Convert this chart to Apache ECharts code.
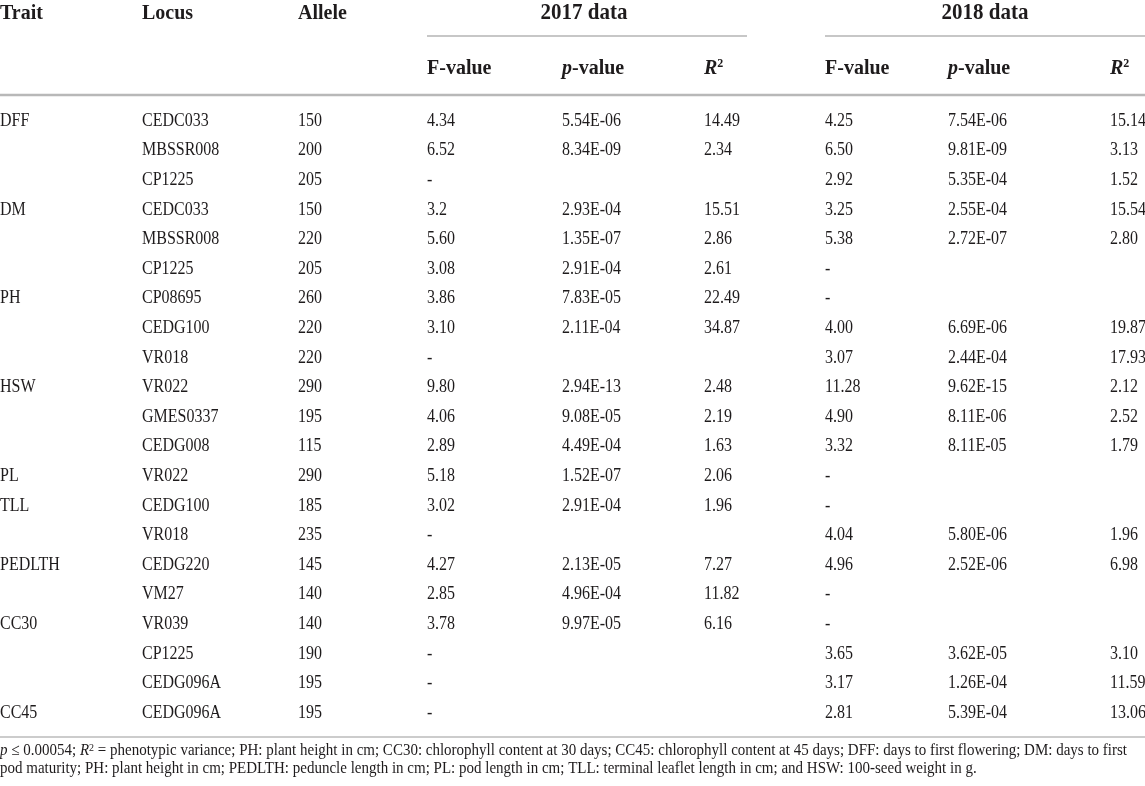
<!DOCTYPE html>
<html>
<head>
<meta charset="utf-8">
<script src="https://cdn.jsdelivr.net/npm/echarts@6/dist/echarts.min.js"></script>
<style>
html, body { margin: 0; padding: 0; background: #fff; }
#main { width: 1145px; height: 786px; }
</style>
</head>
<body>
<div id="main"></div>
<script>
// table values, one array per column
const traits  = ['DFF', '', '', 'DM', '', '', 'PH', '', '', 'HSW', '', '', 'PL', 'TLL', '', 'PEDLTH', '', 'CC30', '', '', 'CC45'];
const loci    = ['CEDC033', 'MBSSR008', 'CP1225', 'CEDC033', 'MBSSR008', 'CP1225', 'CP08695', 'CEDG100', 'VR018', 'VR022', 'GMES0337', 'CEDG008', 'VR022', 'CEDG100', 'VR018', 'CEDG220', 'VM27', 'VR039', 'CP1225', 'CEDG096A', 'CEDG096A'];
const alleles = ['150', '200', '205', '150', '220', '205', '260', '220', '220', '290', '195', '115', '290', '185', '235', '145', '140', '140', '190', '195', '195'];

const f2017 = ['4.34', '6.52', '-', '3.2', '5.60', '3.08', '3.86', '3.10', '-', '9.80', '4.06', '2.89', '5.18', '3.02', '-', '4.27', '2.85', '3.78', '-', '-', '-'];
const p2017 = ['5.54E-06', '8.34E-09', '', '2.93E-04', '1.35E-07', '2.91E-04', '7.83E-05', '2.11E-04', '', '2.94E-13', '9.08E-05', '4.49E-04', '1.52E-07', '2.91E-04', '', '2.13E-05', '4.96E-04', '9.97E-05', '', '', ''];
const r2017 = ['14.49', '2.34', '', '15.51', '2.86', '2.61', '22.49', '34.87', '', '2.48', '2.19', '1.63', '2.06', '1.96', '', '7.27', '11.82', '6.16', '', '', ''];

const f2018 = ['4.25', '6.50', '2.92', '3.25', '5.38', '-', '-', '4.00', '3.07', '11.28', '4.90', '3.32', '-', '-', '4.04', '4.96', '-', '-', '3.65', '3.17', '2.81'];
const p2018 = ['7.54E-06', '9.81E-09', '5.35E-04', '2.55E-04', '2.72E-07', '', '', '6.69E-06', '2.44E-04', '9.62E-15', '8.11E-06', '8.11E-05', '', '', '5.80E-06', '2.52E-06', '', '', '3.62E-05', '1.26E-04', '5.39E-04'];
const r2018 = ['15.14', '3.13', '1.52', '15.54', '2.80', '', '', '19.87', '17.93', '2.12', '2.52', '1.79', '', '', '1.96', '6.98', '', '', '3.10', '11.59', '13.06'];

const columns = [traits, loci, alleles, f2017, p2017, r2017, f2018, p2018, r2018];

const footLine1 = '{i|p} ≤ 0.00054; {i|R}{s|2} = phenotypic variance; PH: plant height in cm; CC30: chlorophyll content at 30 days; CC45: chlorophyll content at 45 days; DFF: days to first flowering; DM: days to first';
const footLine2 = 'pod maturity; PH: plant height in cm; PEDLTH: peduncle length in cm; PL: pod length in cm; TLL: terminal leaflet length in cm; and HSW: 100-seed weight in g.';

// layout
const W = 1145;
const colX = [0, 142, 298, 427, 562, 704, 825, 948, 1110];
const rowH = 29.6;
const firstRowY = 121;
const serif = '"Liberation Serif", "DejaVu Serif", serif';
const ink = '#1e1b1c';

let cells = [];
columns.forEach((col, c) => {
    col.forEach((v, r) => {
        if (v !== '') cells.push([c, r]);
    });
});

function txt(x, y, text, size, weight, align) {
    return {
        type: 'text',
        x: x,
        y: y,
        scaleY: 1.1,
        style: {
            text: text,
            fill: ink,
            fontSize: size,
            fontWeight: weight,
            fontFamily: serif,
            align: align, textAlign: align,
            verticalAlign: 'middle', textVerticalAlign: 'middle'
        }
    };
}

const headRich = {
    i: { fontStyle: 'italic', fontWeight: 'bold', fontSize: 20, fontFamily: serif, fill: ink },
    s: { fontSize: 12, fontWeight: 'bold', fontFamily: serif, fill: ink, verticalAlign: 'top' }
};
const footRich = {
    i: { fontStyle: 'italic', fontSize: 15, fontFamily: serif, fill: ink },
    s: { fontSize: 10, fontFamily: serif, fill: ink, verticalAlign: 'top' }
};

function richTxt(x, y, text, size, weight, rich) {
    let t = txt(x, y, text, size, weight, 'left');
    t.style.rich = rich;
    return t;
}

const headY = 13, subY = 68;
const graphics = [
    txt(colX[0], headY, 'Trait', 20, 'bold', 'left'),
    txt(colX[1], headY, 'Locus', 20, 'bold', 'left'),
    txt(colX[2], headY, 'Allele', 20, 'bold', 'left'),
    txt(584, headY, '2017 data', 21, 'bold', 'center'),
    txt(985, headY, '2018 data', 21, 'bold', 'center'),
    { type: 'line', shape: { x1: 427, y1: 36, x2: 747, y2: 36 }, style: { stroke: '#8f8f8f', lineWidth: 1 } },
    { type: 'line', shape: { x1: 825, y1: 36, x2: W, y2: 36 }, style: { stroke: '#8f8f8f', lineWidth: 1 } },
    txt(colX[3], subY, 'F-value', 20, 'bold', 'left'),
    richTxt(colX[4], subY, '{i|p}-value', 20, 'bold', headRich),
    richTxt(colX[5], subY, '{i|R}{s|2}', 20, 'bold', headRich),
    txt(colX[6], subY, 'F-value', 20, 'bold', 'left'),
    richTxt(colX[7], subY, '{i|p}-value', 20, 'bold', headRich),
    richTxt(colX[8], subY, '{i|R}{s|2}', 20, 'bold', headRich),
    { type: 'line', shape: { x1: 0, y1: 95, x2: W, y2: 95 }, style: { stroke: '#b8b8b8', lineWidth: 2.5 } },
    { type: 'line', shape: { x1: 0, y1: 737, x2: W, y2: 737 }, style: { stroke: '#9a9a9a', lineWidth: 1.2 } },
    richTxt(0, 751, footLine1, 15, 'normal', footRich),
    richTxt(0, 769, footLine2, 15, 'normal', footRich)
];

let plot = echarts.init(document.querySelector('#main'));

const option = {
    animation: false,
    backgroundColor: '#fff',
    grid: {
        left: 0,
        right: 0,
        top: firstRowY - rowH / 2,
        height: rowH * loci.length
    },
    xAxis: { type: 'value', min: 0, max: W, show: false },
    yAxis: {
        type: 'category',
        data: loci.map((d, i) => String(i)),
        inverse: true,
        show: false
    },
    series: [{
        type: 'custom',
        clip: false,
        data: cells,
        renderItem: function (params, api) {
            const c = api.value(0);
            const r = api.value(1);
            const pt = api.coord([colX[c], r]);
            return {
                type: 'text',
                x: pt[0],
                y: pt[1],
                scaleY: 1.15,
                style: {
                    text: columns[c][r],
                    fill: ink,
                    fontSize: 16,
                    fontFamily: serif,
                    align: 'left', textAlign: 'left',
                    verticalAlign: 'middle', textVerticalAlign: 'middle'
                }
            };
        }
    }],
    graphic: graphics
};

plot.setOption(option);
</script>
</body>
</html>
